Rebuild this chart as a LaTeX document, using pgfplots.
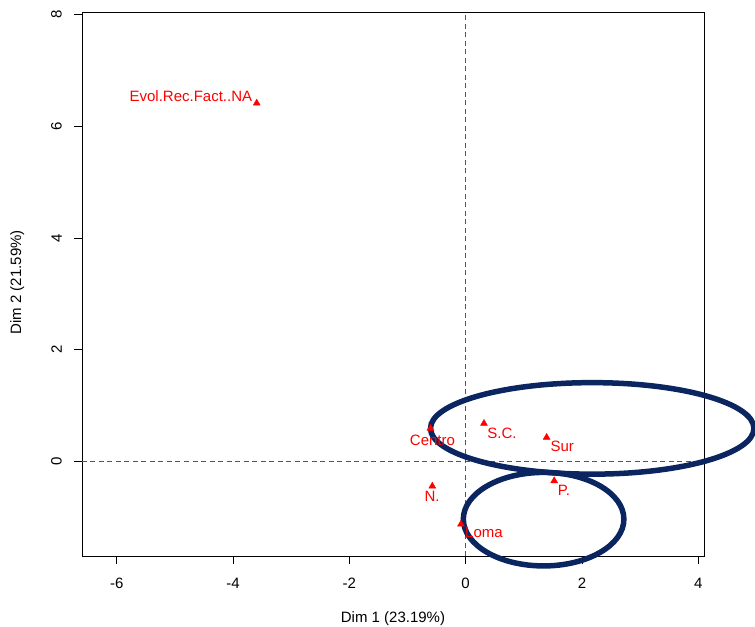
\documentclass[border=0pt]{standalone}
\usepackage{fontspec}
\setmainfont{Liberation Sans}
\usepackage{pgfplots}
\pgfplotsset{compat=1.18}
\definecolor{ellblue}{RGB}{10,37,96}
\definecolor{dashgray}{RGB}{85,85,85}
\begin{document}
\fontsize{15bp}{18bp}\selectfont
\begin{tikzpicture}
\path[use as bounding box] (-82bp,-71bp) rectangle (673bp,556bp);
\begin{axis}[
  at={(0,0)}, anchor=south west,
  scale only axis, width=622bp, height=544bp,
  xmin=-6.60, xmax=4.10, ymin=-1.70, ymax=8.05,
  xtick={-6,-4,-2,0,2,4}, ytick={0,2,4,6,8},
  xtick pos=left, ytick pos=left,
  tick align=outside, major tick length=8bp,
  axis line style={line width=0.8bp},
  every tick/.style={black, line width=0.8bp},
  /pgf/number format/assume math mode=true,
  tick label style={font=\fontsize{15bp}{18bp}\selectfont},
  xticklabel style={anchor=north, inner sep=0pt, yshift=-14bp},
  yticklabel style={rotate=90, anchor=south, inner sep=0pt, yshift=12bp},
  clip=false,
  xlabel={Dim 1 (23.19\%)},
  ylabel={Dim 2 (21.59\%)},
  every axis x label/.style={at={(axis description cs:0.5,-0.116)}, anchor=center, font=\fontsize{15bp}{18bp}\selectfont},
  every axis y label/.style={at={(axis description cs:-0.1043,0.503)}, rotate=90, anchor=center, font=\fontsize{15bp}{18bp}\selectfont},
]
% reference lines
\draw[dashgray, line width=1.2bp, dash pattern=on 5bp off 3.5bp] (axis cs:0,-1.70) -- (axis cs:0,8.05);
\draw[dashgray, line width=1.2bp, dash pattern=on 5bp off 3.5bp] (axis cs:-6.60,0) -- (axis cs:4.10,0);
% points
\addplot[only marks, mark=triangle*, mark size=4bp, color=red] table {
x y
-3.594 6.416
0.315 0.676
1.393 0.425
1.523 -0.353
-0.574 -0.448
-0.081 -1.130
-0.605 0.587
};
% labels
\addplot[draw=none, mark=none, nodes near coords, point meta=explicit symbolic,
  every node near coord/.style={anchor=center, inner sep=0pt, text=red, font=\fontsize{15bp}{18bp}\selectfont}]
  table[meta=lab] {
x y lab
-4.727 6.544 Evol.Rec.Fact..NA
0.624 0.497 S.C.
1.661 0.257 Sur
1.690 -0.520 P.
-0.579 -0.628 N.
0.315 -1.274 Loma
-0.571 0.368 Centro
};
% ellipses
\draw[ellblue, line width=5.5bp] (axis cs:2.177,0.587) ellipse [x radius=2.782, y radius=0.820];
\draw[ellblue, line width=5.5bp] (axis cs:1.341,-1.040) ellipse [x radius=1.381, y radius=0.838];
\end{axis}
\end{tikzpicture}
\end{document}
